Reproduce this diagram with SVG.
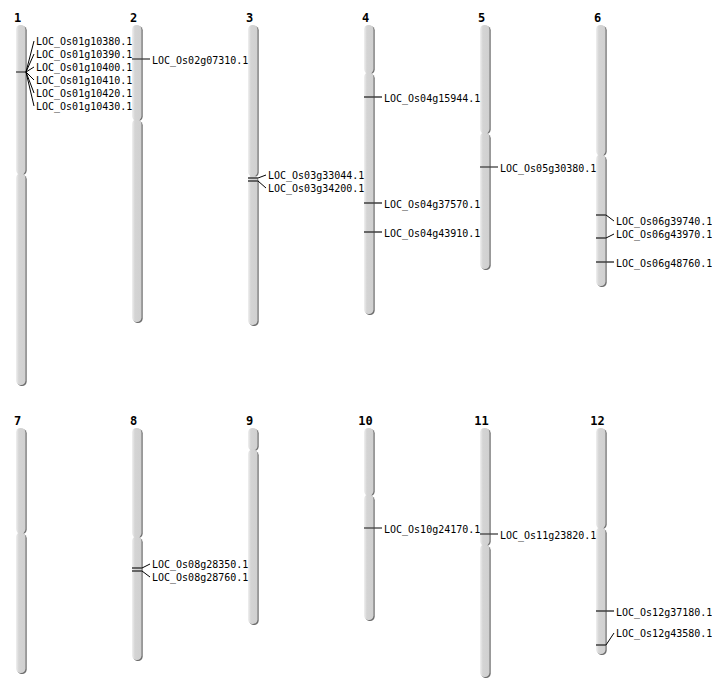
<svg xmlns="http://www.w3.org/2000/svg" width="712" height="700" viewBox="0 0 712 700">
<defs>
<linearGradient id="cg" x1="0" y1="0" x2="1" y2="0">
<stop offset="0" stop-color="#f0f0f0"/>
<stop offset="0.3" stop-color="#d4d4d4"/>
<stop offset="1" stop-color="#d0d0d0"/>
</linearGradient>
<style>
.sh{fill:#6e6e6e}
.arm{fill:url(#cg)}
.num{font-family:"DejaVu Sans Mono","Liberation Mono",monospace;font-weight:bold;font-size:12px;fill:#000;text-anchor:middle}
.lab{font-family:"DejaVu Sans Mono","Liberation Mono",monospace;font-size:10px;fill:#000}
.mk{stroke:#404040;stroke-width:1.3;fill:none}
.ln{stroke:#000;stroke-width:1;fill:none}
</style>
</defs>
<rect width="712" height="700" fill="#fff"/>

<g id="chr1">
<rect class="sh" x="17.2" y="26" width="9.5" height="149" rx="4.5"/><rect class="sh" x="17.2" y="175" width="9.5" height="211" rx="4.5"/>
<rect class="arm" x="16" y="25" width="9.5" height="149.5" rx="4.5"/><rect class="arm" x="16" y="173.5" width="9.5" height="211.5" rx="4.5"/>
<text class="num" x="17.5" y="22">1</text>
</g>
<g id="chr2">
<rect class="sh" x="133.2" y="26" width="9.5" height="95" rx="4.5"/><rect class="sh" x="133.2" y="121" width="9.5" height="202" rx="4.5"/>
<rect class="arm" x="132" y="25" width="9.5" height="95.5" rx="4.5"/><rect class="arm" x="132" y="119.5" width="9.5" height="202.5" rx="4.5"/>
<text class="num" x="133.5" y="22">2</text>
</g>
<g id="chr3">
<rect class="sh" x="249.2" y="26" width="9.5" height="151" rx="4.5"/><rect class="sh" x="249.2" y="177" width="9.5" height="149" rx="4.5"/>
<rect class="arm" x="248" y="25" width="9.5" height="151.5" rx="4.5"/><rect class="arm" x="248" y="175.5" width="9.5" height="149.5" rx="4.5"/>
<text class="num" x="249.5" y="22">3</text>
</g>
<g id="chr4">
<rect class="sh" x="365.2" y="26" width="9.5" height="48" rx="4.5"/><rect class="sh" x="365.2" y="74" width="9.5" height="241" rx="4.5"/>
<rect class="arm" x="364" y="25" width="9.5" height="48.5" rx="4.5"/><rect class="arm" x="364" y="72.5" width="9.5" height="241.5" rx="4.5"/>
<text class="num" x="365.5" y="22">4</text>
</g>
<g id="chr5">
<rect class="sh" x="481.2" y="26" width="9.5" height="108" rx="4.5"/><rect class="sh" x="481.2" y="134" width="9.5" height="136" rx="4.5"/>
<rect class="arm" x="480" y="25" width="9.5" height="108.5" rx="4.5"/><rect class="arm" x="480" y="132.5" width="9.5" height="136.5" rx="4.5"/>
<text class="num" x="481.5" y="22">5</text>
</g>
<g id="chr6">
<rect class="sh" x="597.2" y="26" width="9.5" height="130" rx="4.5"/><rect class="sh" x="597.2" y="156" width="9.5" height="131" rx="4.5"/>
<rect class="arm" x="596" y="25" width="9.5" height="130.5" rx="4.5"/><rect class="arm" x="596" y="154.5" width="9.5" height="131.5" rx="4.5"/>
<text class="num" x="597.5" y="22">6</text>
</g>
<g id="chr7">
<rect class="sh" x="17.2" y="429" width="9.5" height="105" rx="4.5"/><rect class="sh" x="17.2" y="534" width="9.5" height="140" rx="4.5"/>
<rect class="arm" x="16" y="428" width="9.5" height="105.5" rx="4.5"/><rect class="arm" x="16" y="532.5" width="9.5" height="140.5" rx="4.5"/>
<text class="num" x="17.5" y="425">7</text>
</g>
<g id="chr8">
<rect class="sh" x="133.2" y="429" width="9.5" height="109" rx="4.5"/><rect class="sh" x="133.2" y="538" width="9.5" height="123" rx="4.5"/>
<rect class="arm" x="132" y="428" width="9.5" height="109.5" rx="4.5"/><rect class="arm" x="132" y="536.5" width="9.5" height="123.5" rx="4.5"/>
<text class="num" x="133.5" y="425">8</text>
</g>
<g id="chr9">
<rect class="sh" x="249.2" y="429" width="9.5" height="22" rx="4.5"/><rect class="sh" x="249.2" y="451" width="9.5" height="174" rx="4.5"/>
<rect class="arm" x="248" y="428" width="9.5" height="22.5" rx="4.5"/><rect class="arm" x="248" y="449.5" width="9.5" height="174.5" rx="4.5"/>
<text class="num" x="249.5" y="425">9</text>
</g>
<g id="chr10">
<rect class="sh" x="365.2" y="429" width="9.5" height="67" rx="4.5"/><rect class="sh" x="365.2" y="496" width="9.5" height="125" rx="4.5"/>
<rect class="arm" x="364" y="428" width="9.5" height="67.5" rx="4.5"/><rect class="arm" x="364" y="494.5" width="9.5" height="125.5" rx="4.5"/>
<text class="num" x="365.5" y="425">10</text>
</g>
<g id="chr11">
<rect class="sh" x="481.2" y="429" width="9.5" height="117" rx="4.5"/><rect class="sh" x="481.2" y="546" width="9.5" height="132" rx="4.5"/>
<rect class="arm" x="480" y="428" width="9.5" height="117.5" rx="4.5"/><rect class="arm" x="480" y="544.5" width="9.5" height="132.5" rx="4.5"/>
<text class="num" x="481.5" y="425">11</text>
</g>
<g id="chr12">
<rect class="sh" x="597.2" y="429" width="9.5" height="100" rx="4.5"/><rect class="sh" x="597.2" y="529" width="9.5" height="126" rx="4.5"/>
<rect class="arm" x="596" y="428" width="9.5" height="100.5" rx="4.5"/><rect class="arm" x="596" y="527.5" width="9.5" height="126.5" rx="4.5"/>
<text class="num" x="597.5" y="425">12</text>
</g>

<g id="connectors">
<path class="mk" d="M16 72H26" stroke-width="2"/>
<path class="ln" d="M26 72L34 41M26 72L34 54M26 72L34 67M26 72L34 80M26 72L34 93M26 72L34 106"/>
<path class="mk" d="M132 59H150"/>
<path class="mk" d="M248 178H258M248 181H258"/>
<path class="ln" d="M258 178L266 175M258 181L266 188"/>
<path class="mk" d="M364 97H382M364 203H382M364 232H382"/>
<path class="mk" d="M480 167H498"/>
<path class="mk" d="M596 215H606M596 238H606M596 262H614"/>
<path class="ln" d="M606 215L614 221M606 238L614 234"/>
<path class="mk" d="M132 568H142M132 571H142"/>
<path class="ln" d="M142 568L150 564M142 571L150 577"/>
<path class="mk" d="M364 528H382"/>
<path class="mk" d="M480 534H498"/>
<path class="mk" d="M596 611H614M596 645H606"/>
<path class="ln" d="M606 645L614 633"/>
</g>

<g id="labels">
<text class="lab" x="36" y="44.5">LOC_Os01g10380.1</text>
<text class="lab" x="36" y="57.5">LOC_Os01g10390.1</text>
<text class="lab" x="36" y="70.5">LOC_Os01g10400.1</text>
<text class="lab" x="36" y="83.5">LOC_Os01g10410.1</text>
<text class="lab" x="36" y="96.5">LOC_Os01g10420.1</text>
<text class="lab" x="36" y="109.5">LOC_Os01g10430.1</text>
<text class="lab" x="152" y="63.5">LOC_Os02g07310.1</text>
<text class="lab" x="268" y="178.5">LOC_Os03g33044.1</text>
<text class="lab" x="268" y="191.5">LOC_Os03g34200.1</text>
<text class="lab" x="384" y="101.5">LOC_Os04g15944.1</text>
<text class="lab" x="384" y="207.5">LOC_Os04g37570.1</text>
<text class="lab" x="384" y="236.5">LOC_Os04g43910.1</text>
<text class="lab" x="500" y="171.5">LOC_Os05g30380.1</text>
<text class="lab" x="616" y="224.5">LOC_Os06g39740.1</text>
<text class="lab" x="616" y="237.5">LOC_Os06g43970.1</text>
<text class="lab" x="616" y="266.5">LOC_Os06g48760.1</text>
<text class="lab" x="152" y="567.5">LOC_Os08g28350.1</text>
<text class="lab" x="152" y="580.5">LOC_Os08g28760.1</text>
<text class="lab" x="384" y="532.5">LOC_Os10g24170.1</text>
<text class="lab" x="500" y="538.5">LOC_Os11g23820.1</text>
<text class="lab" x="616" y="615.5">LOC_Os12g37180.1</text>
<text class="lab" x="616" y="636.5">LOC_Os12g43580.1</text>
</g>
</svg>
